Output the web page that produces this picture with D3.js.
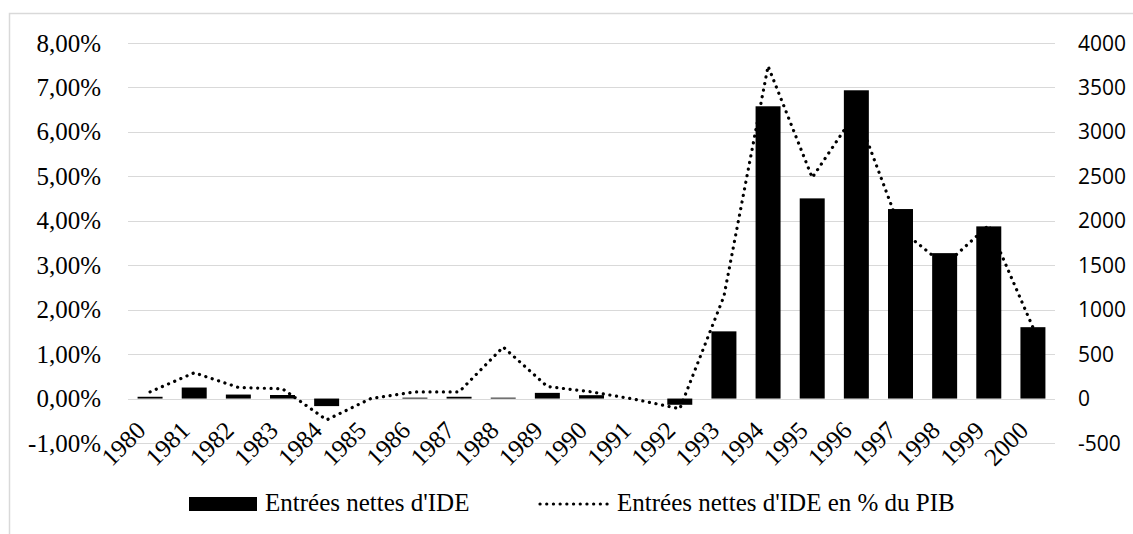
<!DOCTYPE html>
<html>
<head>
<meta charset="utf-8">
<script src="https://cdn.jsdelivr.net/npm/d3@7"></script>
<style>
  html, body { margin: 0; padding: 0; background: #fff; }
  svg { display: block; }
</style>
</head>
<body>
<div id="chart"></div>
<script>
// --- data ---
const years = ['1980', '1981', '1982', '1983', '1984', '1985', '1986', '1987', '1988', '1989', '1990',
               '1991', '1992', '1993', '1994', '1995', '1996', '1997', '1998', '1999', '2000'];
// net FDI inflows (right axis)
const ideFlows = [20, 124, 45, 40, -85, 0, 10, 20, 10, 64, 38,
                  0, -70, 756, 3288, 2252, 3468, 2132, 1636, 1937, 803];
// net FDI inflows as % of GDP (left axis)
const idePctPib = [0.15, 0.58, 0.25, 0.22, -0.48, 0.0, 0.15, 0.15, 1.16, 0.27, 0.15,
                   -0.02, -0.23, 2.3, 7.48, 4.97, 6.45, 3.8, 3.0, 3.9, 1.6];
const leftTicks = [-1, 0, 1, 2, 3, 4, 5, 6, 7, 8];
const rightTicks = [-500, 0, 500, 1000, 1500, 2000, 2500, 3000, 3500, 4000];
const seriesNames = ["Entrées nettes d'IDE", "Entrées nettes d'IDE en % du PIB"];

const SERIF = "'Liberation Serif', Tinos, 'Times New Roman', Times, 'DejaVu Serif', serif";
const SANS = "'Open Sans', 'Liberation Sans', sans-serif";

const width = 1133, height = 534;
const plot = { left: 128, right: 1055, top: 43, bottom: 443 };

const svg = d3.select('#chart').append('svg')
    .attr('width', width)
    .attr('height', height);

// chart frame (only top and left edges are inside the picture)
svg.append('rect')
    .attr('x', 9.5).attr('y', 13.5)
    .attr('width', 1300).attr('height', 700)
    .attr('fill', 'none').attr('stroke', '#d9d9d9').attr('stroke-width', 1.5);

const x = d3.scaleBand().domain(years).range([plot.left, plot.right])
    .paddingInner(0.434).paddingOuter(0.217);
const yLeft = d3.scaleLinear().domain([-1, 8]).range([plot.bottom, plot.top]);
const yRight = d3.scaleLinear().domain([-500, 4000]).range([plot.bottom, plot.top]);

// gridlines
svg.append('g').selectAll('line')
    .data(leftTicks)
    .join('line')
    .attr('x1', plot.left).attr('x2', plot.right)
    .attr('y1', d => Math.round(yLeft(d)) + 0.5)
    .attr('y2', d => Math.round(yLeft(d)) + 0.5)
    .attr('stroke', '#d9d9d9').attr('stroke-width', 1);

// left axis labels
const pctFmt = d => d.toFixed(2).replace('.', ',') + '%';
svg.append('g').selectAll('text')
    .data(leftTicks)
    .join('text')
    .attr('x', 101).attr('y', d => yLeft(d))
    .attr('dy', '0.34em')
    .attr('text-anchor', 'end')
    .style('font-family', SERIF).style('font-size', '25px').attr('fill', '#000')
    .text(pctFmt);

// right axis labels
svg.append('g').selectAll('text')
    .data(rightTicks)
    .join('text')
    .attr('x', 1078).attr('y', d => yRight(d))
    .attr('dy', '0.36em')
    .attr('text-anchor', 'start')
    .style('font-family', SANS).style('font-size', '21px').attr('fill', '#000')
    .text(d => d);

// x axis labels, rotated
svg.append('g').selectAll('text')
    .data(years)
    .join('text')
    .attr('text-anchor', 'end')
    .style('font-family', SERIF).style('font-size', '25px').attr('fill', '#000')
    .attr('transform', d => `translate(${x(d) + x.bandwidth() / 2 - 3},432) rotate(-45)`)
    .text(d => d);

// dotted % of GDP line (drawn under the bars)
const line = d3.line()
    .x((d, i) => x(years[i]) + x.bandwidth() / 2)
    .y(d => yLeft(d));

const dotStyle = sel => sel
    .attr('fill', 'none').attr('stroke', '#000')
    .attr('stroke-width', 3.2)
    .attr('stroke-linecap', 'round')
    .attr('stroke-dasharray', '0.1 6.6');

svg.append('path')
    .datum(idePctPib)
    .attr('d', line)
    .call(dotStyle);

// bars on the right axis
svg.append('g').selectAll('rect')
    .data(ideFlows)
    .join('rect')
    .attr('x', (d, i) => x(years[i]))
    .attr('width', x.bandwidth())
    .attr('y', d => yRight(Math.max(0, d)))
    .attr('height', d => Math.abs(yRight(d) - yRight(0)))
    .attr('fill', '#000');

// legend
const legend = svg.append('g');
legend.append('rect')
    .attr('x', 189).attr('y', 497).attr('width', 68).attr('height', 14)
    .attr('fill', '#000');
legend.append('text')
    .attr('x', 265).attr('y', 511)
    .style('font-family', SERIF).style('font-size', '25px').attr('fill', '#000')
    .text(seriesNames[0]);
legend.append('path')
    .attr('d', d3.line()([[540, 504], [612, 504]]))
    .call(dotStyle);
legend.append('text')
    .attr('x', 617).attr('y', 511)
    .style('font-family', SERIF).style('font-size', '25px').attr('fill', '#000')
    .text(seriesNames[1]);
</script>
</body>
</html>
